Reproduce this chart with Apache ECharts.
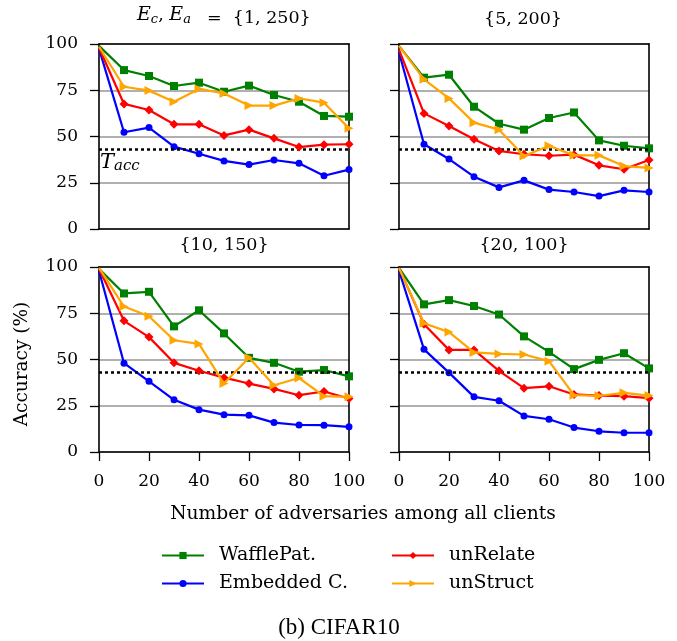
<!DOCTYPE html>
<html>
<head>
<meta charset="utf-8">
<script src="https://cdn.jsdelivr.net/npm/echarts@6/dist/echarts.min.js"></script>
<style>
html,body{margin:0;padding:0;background:#fff;}
#chart{width:677px;height:641px;}
</style>
</head>
<body>
<div id="chart"></div>
<script>
// ---- data ----
const X_VALUES = [0, 10, 20, 30, 40, 50, 60, 70, 80, 90, 100];
const Y_TICKS = [0, 25, 50, 75, 100];
const X_TICKS = [0, 20, 40, 60, 80, 100];
const T_ACC = 43;
const METHODS = ['WafflePat.', 'Embedded C.', 'unRelate', 'unStruct'];
const PANEL_TITLES = ['{1, 250}', '{5, 200}', '{10, 150}', '{20, 100}'];

// panel 1: {1,250}
const WAFFLE_1   = [99, 85.9, 82.7, 77.3, 79.1, 74.2, 77.5, 72.4, 68.8, 61.1, 60.7];
const EMBED_1    = [97.5, 52.3, 54.8, 44.5, 40.7, 36.8, 34.8, 37.3, 35.5, 28.8, 32.1];
const UNRELATE_1 = [98, 67.6, 64.3, 56.6, 56.6, 50.6, 53.7, 49.0, 44.3, 45.6, 45.8];
const UNSTRUCT_1 = [98.5, 76.9, 74.8, 68.8, 75.7, 73.3, 66.7, 66.7, 70.6, 68.3, 54.4];
// panel 2: {5,200}
const WAFFLE_2   = [99, 81.8, 83.4, 66.1, 56.9, 53.7, 60.0, 63.0, 47.9, 45.0, 43.6];
const EMBED_2    = [95.5, 45.8, 37.8, 28.3, 22.5, 26.3, 21.3, 20.0, 17.8, 20.9, 20.0];
const UNRELATE_2 = [97, 62.5, 55.7, 48.5, 42.2, 40.4, 39.6, 40.2, 34.4, 32.3, 37.3];
const UNSTRUCT_2 = [99, 80.9, 70.6, 57.5, 53.7, 39.5, 45.0, 39.8, 39.8, 34.0, 33.0];
// panel 3: {10,150}
const WAFFLE_3   = [99, 85.7, 86.6, 67.9, 76.6, 64.1, 50.9, 48.2, 43.4, 44.3, 40.9];
const EMBED_3    = [98, 48.0, 38.2, 28.2, 22.9, 20.2, 19.8, 15.9, 14.6, 14.5, 13.6];
const UNRELATE_3 = [99, 70.9, 62.1, 48.2, 43.9, 40.2, 37.0, 34.1, 30.7, 32.7, 28.9];
const UNSTRUCT_3 = [99.5, 78.6, 73.4, 60.4, 58.4, 37.0, 50.9, 36.1, 40.0, 30.2, 29.8];
// panel 4: {20,100}
const WAFFLE_4   = [99.5, 79.8, 82.1, 78.9, 74.3, 62.5, 54.1, 44.8, 49.8, 53.4, 45.2];
const EMBED_4    = [98, 55.5, 42.9, 29.8, 27.7, 19.5, 17.7, 13.2, 11.2, 10.4, 10.4];
const UNRELATE_4 = [99.5, 69.1, 55.2, 55.2, 43.9, 34.5, 35.5, 31.1, 30.5, 30.2, 29.1];
const UNSTRUCT_4 = [99.5, 69.6, 64.8, 53.8, 53.0, 52.7, 49.1, 30.7, 30.4, 32.0, 30.5];

const PANELS = [
  [WAFFLE_1, EMBED_1, UNRELATE_1, UNSTRUCT_1],
  [WAFFLE_2, EMBED_2, UNRELATE_2, UNSTRUCT_2],
  [WAFFLE_3, EMBED_3, UNRELATE_3, UNSTRUCT_3],
  [WAFFLE_4, EMBED_4, UNRELATE_4, UNSTRUCT_4]
];

// ---- styles ----
const FONT = 'DejaVu Serif';
const COLORS = ['#008000', '#0000ff', '#ff0000', '#ffa500'];
const SYMBOLS = ['rect', 'circle', 'diamond', 'triangle'];
const SYMBOL_SIZES = [8, 7, 9, 9];
const SYMBOL_ROTATE = [0, 0, 0, -90];
const GRIDS = [
  {left: 99, top: 44, width: 250, height: 185},
  {left: 399, top: 44, width: 250, height: 185},
  {left: 99, top: 267, width: 250, height: 185},
  {left: 399, top: 267, width: 250, height: 185}
];

const chart = echarts.init(document.getElementById('chart'));

const xAxes = [], yAxes = [], series = [];
GRIDS.forEach((g, p) => {
  const bottomRow = p >= 2, leftCol = p % 2 === 0;
  xAxes.push({
    type: 'value', gridIndex: p, min: 0, max: 100, interval: 20, position: 'bottom',
    axisLine: {show: true, onZero: false, lineStyle: {color: '#000', width: 1.6}},
    axisTick: {show: bottomRow, inside: false, length: 9, lineStyle: {color: '#000', width: 1.3}},
    axisLabel: {show: bottomRow, margin: 21, color: '#000', fontFamily: FONT, fontSize: 17},
    splitLine: {show: false}
  });
  xAxes.push({
    type: 'value', gridIndex: p, min: 0, max: 100, position: 'top',
    axisLine: {show: true, onZero: false, lineStyle: {color: '#000', width: 1.6}},
    axisTick: {show: false}, axisLabel: {show: false}, splitLine: {show: false}
  });
  yAxes.push({
    type: 'value', gridIndex: p, min: 0, max: 100, interval: 25, position: 'left',
    axisLine: {show: true, onZero: false, lineStyle: {color: '#000', width: 1.6}},
    axisTick: {show: true, inside: false, length: 9, lineStyle: {color: '#000', width: 1.3}},
    axisLabel: {show: leftCol, margin: 21, color: '#000', fontFamily: FONT, fontSize: 17},
    splitLine: {show: true, lineStyle: {color: '#b0b0b0', width: 2}}
  });
  yAxes.push({
    type: 'value', gridIndex: p, min: 0, max: 100, position: 'right',
    axisLine: {show: true, onZero: false, lineStyle: {color: '#000', width: 1.6}},
    axisTick: {show: false}, axisLabel: {show: false}, splitLine: {show: false}
  });

  PANELS[p].forEach((vals, m) => {
    const s = {
      type: 'line', name: METHODS[m], xAxisIndex: 2 * p, yAxisIndex: 2 * p,
      data: X_VALUES.map((x, i) => i === 0 ? {value: [x, vals[i]], symbol: 'none'} : [x, vals[i]]),
      symbol: SYMBOLS[m],
      symbolSize: SYMBOL_SIZES[m], symbolRotate: SYMBOL_ROTATE[m], showAllSymbol: true,
      lineStyle: {color: COLORS[m], width: 2.2},
      itemStyle: {color: COLORS[m], borderWidth: 0},
      z: 3 + m,
      clip: true
    };
    if (m === 0) {
      s.markLine = {
        silent: true, symbol: ['none', 'none'], animation: false,
        label: {show: false},
        lineStyle: {color: '#000', type: [3, 3], width: 2.6},
        data: [{yAxis: T_ACC}]
      };
    }
    series.push(s);
  });
});

const legendBase = {
  itemWidth: 42, itemHeight: 9, itemGap: 0,
  textStyle: {fontFamily: FONT, fontSize: 19, color: '#000', padding: [0, 0, 0, 10]},
  selectedMode: false
};
const legends = [
  Object.assign({}, legendBase, {data: [METHODS[0]], left: 156, top: 541}),
  Object.assign({}, legendBase, {data: [METHODS[1]], left: 156, top: 569}),
  Object.assign({}, legendBase, {data: [METHODS[2]], left: 386, top: 541}),
  Object.assign({}, legendBase, {data: [METHODS[3]], left: 386, top: 569})
];

const titleStyle = {fontFamily: FONT, fontSize: 17.5, fill: '#000', textAlign: 'center', textVerticalAlign: 'middle'};
const graphics = [
  {type: 'text', left: 137, top: 6, style: {
    rich: {
      it: {fontFamily: FONT, fontStyle: 'italic', fontSize: 19},
      sub: {fontFamily: FONT, fontStyle: 'italic', fontSize: 13, verticalAlign: 'bottom', padding: [8, 0, 0, 0]},
      n: {fontFamily: FONT, fontSize: 17.5}
    },
    text: '{it|E}{sub|c}{n|, }{it|E}{sub|a}', fill: '#000'
  }},
  {type: 'text', left: 207, top: 9, style: {text: '=  ' + PANEL_TITLES[0], fontFamily: FONT, fontSize: 17.5, fill: '#000'}},
  {type: 'text', x: 523, y: 19, style: Object.assign({text: PANEL_TITLES[1]}, titleStyle)},
  {type: 'text', x: 224, y: 245, style: Object.assign({text: PANEL_TITLES[2]}, titleStyle)},
  {type: 'text', x: 524, y: 245, style: Object.assign({text: PANEL_TITLES[3]}, titleStyle)},
  {type: 'text', left: 100, top: 152, z: 10, style: {
    rich: {
      it: {fontFamily: FONT, fontStyle: 'italic', fontSize: 21},
      sub: {fontFamily: FONT, fontStyle: 'italic', fontSize: 15, verticalAlign: 'bottom', padding: [8, 0, 0, 0]}
    },
    text: '{it|T}{sub|acc}', fill: '#000'
  }},
  {type: 'text', x: 22, y: 364, rotation: Math.PI / 2, style: Object.assign({}, titleStyle, {text: 'Accuracy (%)', fontSize: 18.5})},
  {type: 'text', x: 363, y: 514, style: Object.assign({}, titleStyle, {text: 'Number of adversaries among all clients', fontSize: 18.7})},
  {type: 'text', x: 339, y: 628, style: {text: '(b) CIFAR10', fontFamily: 'Liberation Serif', fontSize: 23, fill: '#000', textAlign: 'center', textVerticalAlign: 'middle'}}
];

chart.setOption({
  animation: false,
  backgroundColor: '#fff',
  grid: GRIDS.map(g => Object.assign({containLabel: false}, g)),
  xAxis: xAxes,
  yAxis: yAxes,
  legend: legends,
  series: series,
  graphic: graphics
});
</script>
</body>
</html>
